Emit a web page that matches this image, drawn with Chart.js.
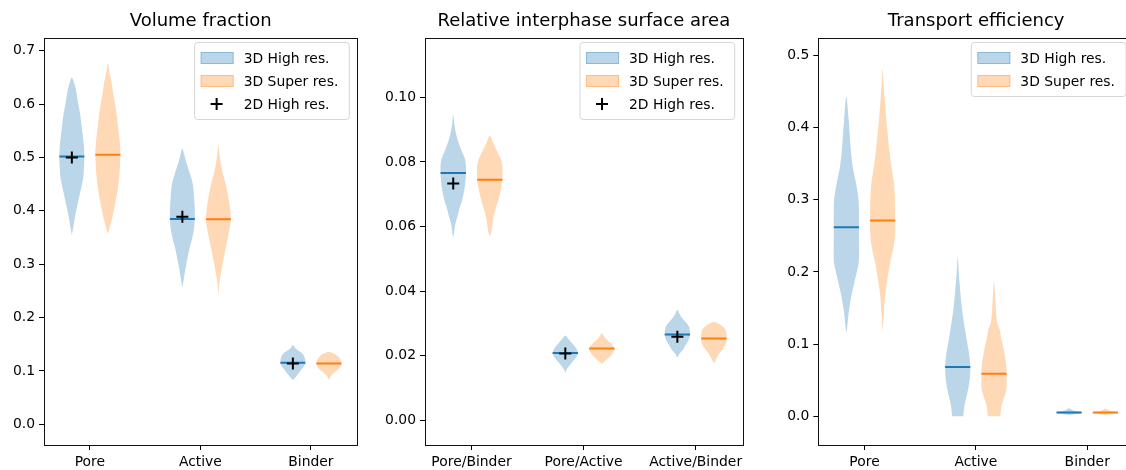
<!DOCTYPE html>
<html>
<head>
<meta charset="utf-8">
<script src="https://cdn.jsdelivr.net/npm/chart.js@4.4.1/dist/chart.umd.min.js"></script>
<style>
html, body { margin: 0; padding: 0; background: #fff; overflow: hidden; width: 1126px; height: 470px; }
canvas { position: absolute; top: 0; }
</style>
</head>
<body>
<canvas id="c1" width="372" height="470" style="left:0px"></canvas>
<canvas id="c2" width="390" height="470" style="left:372px"></canvas>
<canvas id="c3" width="378" height="470" style="left:762px"></canvas>
<script>
// ---- data ----
// violin outlines: [value, relative half-width] from bottom to top

// Volume fraction
const vfCats = ['Pore', 'Active', 'Binder'];
const vfTicks = [0, 0.1, 0.2, 0.3, 0.4, 0.5, 0.6, 0.7];
const vfHighMed = [0.502, 0.385, 0.1154];
const vfSuperMed = [0.505, 0.3845, 0.114];
const vf2D = [0.500, 0.389, 0.114];
const vfHighPore = [[0.355,0],[0.37,0.12],[0.385,0.22],[0.40,0.35],[0.42,0.53],[0.44,0.72],[0.46,0.9],[0.48,0.97],[0.50,1],[0.52,0.97],[0.54,0.88],[0.56,0.78],[0.58,0.67],[0.60,0.52],[0.62,0.38],[0.63,0.3],[0.64,0.18],[0.65,0]];
const vfSuperPore = [[0.357,0],[0.37,0.16],[0.39,0.38],[0.41,0.55],[0.43,0.72],[0.45,0.84],[0.47,0.93],[0.49,0.98],[0.51,1],[0.53,0.95],[0.55,0.85],[0.575,0.73],[0.60,0.58],[0.62,0.42],[0.64,0.3],[0.66,0.12],[0.676,0]];
const vfHighAct = [[0.2565,0],[0.27,0.1],[0.29,0.24],[0.31,0.4],[0.33,0.58],[0.35,0.8],[0.37,0.95],[0.39,1],[0.41,0.98],[0.43,0.92],[0.45,0.84],[0.47,0.6],[0.49,0.32],[0.505,0.15],[0.517,0]];
const vfSuperAct = [[0.242,0],[0.26,0.06],[0.27,0.1],[0.288,0.24],[0.32,0.5],[0.351,0.77],[0.385,1],[0.414,0.87],[0.445,0.63],[0.476,0.3],[0.50,0.12],[0.523,0]];
const vfHighBin = [[0.083,0],[0.089,0.25],[0.095,0.45],[0.102,0.67],[0.11,0.92],[0.117,1],[0.126,0.93],[0.133,0.75],[0.139,0.4],[0.144,0.15],[0.1485,0]];
const vfSuperBin = [[0.083,0],[0.09,0.15],[0.097,0.45],[0.104,0.8],[0.112,1],[0.12,0.95],[0.127,0.75],[0.132,0.45],[0.136,0]];

// Relative interphase surface area
const saCats = ['Pore/Binder', 'Pore/Active', 'Active/Binder'];
const saTicks = [0, 0.02, 0.04, 0.06, 0.08, 0.10];
const saHighMed = [0.07655, 0.02077, 0.02656];
const saSuperMed = [0.0745, 0.0222, 0.02532];
const sa2D = [0.0733, 0.02067, 0.02584];
const saHighPB = [[0.0565,0],[0.058,0.06],[0.061,0.18],[0.0632,0.34],[0.066,0.52],[0.0684,0.72],[0.072,0.9],[0.076,1],[0.0787,1],[0.0808,0.93],[0.0839,0.62],[0.0865,0.38],[0.0891,0.2],[0.092,0.08],[0.0947,0]];
const saSuperPB = [[0.057,0],[0.058,0.1],[0.0605,0.2],[0.0632,0.31],[0.066,0.5],[0.0684,0.69],[0.072,0.9],[0.075,1],[0.0787,1],[0.0808,0.88],[0.0839,0.5],[0.086,0.25],[0.0882,0]];
const saHighPA = [[0.0147,0],[0.016,0.15],[0.0168,0.3],[0.018,0.55],[0.0195,0.85],[0.0207,1],[0.022,0.9],[0.0232,0.68],[0.024,0.5],[0.025,0.28],[0.02625,0]];
const saSuperPA = [[0.0173,0],[0.018,0.15],[0.0188,0.4],[0.0196,0.62],[0.0204,0.8],[0.0213,0.95],[0.0222,1],[0.0232,0.85],[0.0242,0.6],[0.0249,0.4],[0.0258,0.2],[0.0269,0]];
const saHighAB = [[0.0193,0],[0.0205,0.15],[0.0218,0.44],[0.0229,0.6],[0.0239,0.75],[0.0252,0.93],[0.0266,1],[0.0281,0.97],[0.0291,0.9],[0.0302,0.7],[0.0312,0.47],[0.0325,0.22],[0.0341,0]];
const saSuperAB = [[0.0175,0],[0.0185,0.12],[0.0195,0.25],[0.0204,0.38],[0.0215,0.6],[0.0229,0.85],[0.024,0.97],[0.0253,1],[0.0268,1],[0.028,0.92],[0.029,0.7],[0.0298,0.4],[0.0305,0]];

// Transport efficiency
const teCats = ['Pore', 'Active', 'Binder'];
const teTicks = [0, 0.1, 0.2, 0.3, 0.4, 0.5];
const teHighMed = [0.262, 0.068, 0.0051];
const teSuperMed = [0.2713, 0.0588, 0.0051];
const teHighPore = [[0.1147,0],[0.125,0.08],[0.143,0.18],[0.166,0.39],[0.1895,0.69],[0.205,0.9],[0.2173,1],[0.24,1],[0.262,1],[0.28,1],[0.30,0.97],[0.32,0.8],[0.3466,0.5],[0.37,0.35],[0.393,0.26],[0.42,0.14],[0.4428,0]];
const teSuperPore = [[0.1165,0],[0.13,0.05],[0.143,0.1],[0.166,0.19],[0.1895,0.37],[0.2127,0.6],[0.2357,0.88],[0.255,1],[0.275,1],[0.3004,0.98],[0.3236,0.89],[0.3466,0.69],[0.37,0.52],[0.393,0.39],[0.415,0.27],[0.439,0.17],[0.46,0.08],[0.4816,0]];
const teHighAct = [[0,0.45],[0.01,0.5],[0.02,0.6],[0.035,0.8],[0.05,0.95],[0.068,1],[0.085,0.92],[0.1,0.77],[0.12,0.58],[0.15,0.33],[0.18,0.17],[0.2,0.08],[0.221,0]];
const teSuperAct = [[0,0.5],[0.015,0.6],[0.03,0.88],[0.04,1],[0.059,1],[0.07,0.98],[0.09,0.8],[0.11,0.55],[0.12,0.45],[0.13,0.25],[0.15,0.14],[0.17,0.08],[0.187,0]];
const teHighBin = [[0.0015,0],[0.003,0.6],[0.0045,1],[0.0055,0.95],[0.007,0.5],[0.009,0.2],[0.011,0]];
const teSuperBin = [[0.0015,0],[0.003,0.6],[0.0045,1],[0.0055,0.9],[0.007,0.45],[0.0088,0.18],[0.0105,0]];

// ---- styling ----
const FONT = "'DejaVu Sans', sans-serif";
const BLUE = '#1f77b4', ORANGE = '#ff7f0e';
const BLUE_FILL = 'rgba(31,119,180,0.3)', ORANGE_FILL = 'rgba(255,127,14,0.3)';
const OFFSET = 0.163, HALF = 0.113;

function violin(pos, prof, fill) {
  const right = prof.map(p => ({x: pos + p[1] * HALF, y: p[0]}));
  const left = prof.slice(0, -1).reverse().map(p => ({x: pos - p[1] * HALF, y: p[0]}));
  return {type: 'line', data: right.concat(left), fill: 'shape', backgroundColor: fill,
          borderWidth: 0, borderColor: 'rgba(0,0,0,0)', pointRadius: 0, tension: 0.3, order: 3};
}

function median(pos, m, color) {
  return {type: 'line', data: [{x: pos - HALF, y: m}, {x: pos + HALF, y: m}], borderColor: color,
          borderWidth: 2, pointRadius: 0, fill: false, order: 2};
}

const frame = {
  id: 'frame',
  afterDatasetsDraw(chart) {
    const {ctx, chartArea: a} = chart;
    ctx.save();
    ctx.strokeStyle = '#111';
    ctx.lineWidth = 1;
    ctx.strokeRect(Math.round(a.left) + 0.5, Math.round(a.top) + 0.5,
                   Math.round(a.right) - Math.round(a.left), Math.round(a.bottom) - Math.round(a.top));
    ctx.restore();
  }
};

// legend box drawn inside the axes, top right (items kept in a closure)
function boxLegend(items) {
  return {
    id: 'boxLegend',
    afterDatasetsDraw(chart) {
      const {ctx, chartArea: a} = chart;
      ctx.save();
      ctx.font = '13.9px ' + FONT;
      const tw = Math.max(...items.map(it => ctx.measureText(it.label).width));
      const w = tw + 60, h = 31 + (items.length - 1) * 23;
      const x0 = a.right - 8 - w, y0 = a.top + 4.5;
      ctx.beginPath();
      ctx.roundRect(x0, y0, w, h, 3);
      ctx.fillStyle = 'rgba(255,255,255,0.8)';
      ctx.fill();
      ctx.strokeStyle = '#d6d6d6';
      ctx.lineWidth = 1;
      ctx.stroke();
      items.forEach((it, i) => {
        const cy = y0 + 15.5 + i * 23;
        if (it.fill) {
          ctx.fillStyle = it.fill;
          ctx.fillRect(x0 + 6, cy - 6, 33, 12);
          ctx.strokeStyle = it.fill;
          ctx.lineWidth = 1;
          ctx.strokeRect(x0 + 6.5, cy - 5.5, 32, 11);
        } else {
          ctx.strokeStyle = '#000';
          ctx.lineWidth = 2;
          ctx.beginPath();
          ctx.moveTo(x0 + 16, cy); ctx.lineTo(x0 + 28, cy);
          ctx.moveTo(x0 + 22, cy - 6); ctx.lineTo(x0 + 22, cy + 6);
          ctx.stroke();
        }
        ctx.fillStyle = '#000';
        ctx.textBaseline = 'middle';
        ctx.textAlign = 'left';
        ctx.fillText(it.label, x0 + 49, cy + 1);
      });
      ctx.restore();
    }
  };
}

function makeChart(id, cfg) {
  const ds = [];
  cfg.high.forEach((p, i) => ds.push(violin(i + 1 - OFFSET, p, BLUE_FILL)));
  cfg.sup.forEach((p, i) => ds.push(violin(i + 1 + OFFSET, p, ORANGE_FILL)));
  cfg.highMed.forEach((m, i) => ds.push(median(i + 1 - OFFSET, m, BLUE)));
  cfg.supMed.forEach((m, i) => ds.push(median(i + 1 + OFFSET, m, ORANGE)));
  const items = [{label: '3D High res.', fill: BLUE_FILL}, {label: '3D Super res.', fill: ORANGE_FILL}];
  if (cfg.twoD) {
    ds.push({type: 'line', showLine: false, data: cfg.twoD.map((v, i) => ({x: i + 1 - OFFSET, y: v})),
             pointStyle: 'cross', pointRadius: 6, pointBorderWidth: 2, borderColor: '#000',
             backgroundColor: '#000', order: 1});
    items.push({label: '2D High res.', fill: null});
  }
  const tickFont = {family: FONT, size: 13.9};
  return new Chart(document.getElementById(id), {
    type: 'line',
    data: {datasets: ds},
    plugins: [frame, boxLegend(items)],
    options: {
      responsive: false, animation: false, devicePixelRatio: 1,
      layout: {padding: {left: 0, right: cfg.padR, top: 0, bottom: 0}},
      plugins: {
        legend: {display: false},
        tooltip: {enabled: false},
        title: {display: true, text: cfg.title, fullSize: false, color: '#000',
                font: {family: FONT, size: 18, weight: 'normal'}, padding: {top: 10.2, bottom: 6.2}}
      },
      scales: {
        x: {
          type: 'linear', min: 0.585, max: 3.42,
          afterBuildTicks: s => { s.ticks = cfg.cats.map((c, i) => ({value: i + 1})); },
          afterFit: s => { s.height = 25; },
          ticks: {callback: v => cfg.cats[Math.round(v) - 1], color: '#000', font: tickFont, padding: 4, maxRotation: 0},
          grid: {display: true, drawOnChartArea: false, drawTicks: true, tickLength: 5, tickColor: '#000', tickWidth: 1},
          border: {display: false}
        },
        y: {
          type: 'linear', min: cfg.ymin, max: cfg.ymax,
          afterBuildTicks: s => { s.ticks = cfg.ticks.map(v => ({value: v})); },
          afterFit: s => { s.width = cfg.yw; },
          ticks: {callback: v => v.toFixed(cfg.dec), color: '#000', font: tickFont, padding: 4},
          grid: {display: true, drawOnChartArea: false, drawTicks: true, tickLength: 5, tickColor: '#000', tickWidth: 1},
          border: {display: false}
        }
      }
    }
  });
}

makeChart('c1', {
  title: 'Volume fraction', cats: vfCats, ticks: vfTicks, dec: 1,
  ymin: -0.0388, ymax: 0.724, yw: 44, padR: 14.7,
  high: [vfHighPore, vfHighAct, vfHighBin], sup: [vfSuperPore, vfSuperAct, vfSuperBin],
  highMed: vfHighMed, supMed: vfSuperMed, twoD: vf2D
});
makeChart('c2', {
  title: 'Relative interphase surface area', cats: saCats, ticks: saTicks, dec: 2,
  ymin: -0.0077, ymax: 0.1184, yw: 53, padR: 19.3,
  high: [saHighPB, saHighPA, saHighAB], sup: [saSuperPB, saSuperPA, saSuperAB],
  highMed: saHighMed, supMed: saSuperMed, twoD: sa2D
});
makeChart('c3', {
  title: 'Transport efficiency', cats: teCats, ticks: teTicks, dec: 1,
  ymin: -0.040, ymax: 0.5243, yw: 56.3, padR: 6,
  high: [teHighPore, teHighAct, teHighBin], sup: [teSuperPore, teSuperAct, teSuperBin],
  highMed: teHighMed, supMed: teSuperMed, twoD: null
});
</script>
</body>
</html>
